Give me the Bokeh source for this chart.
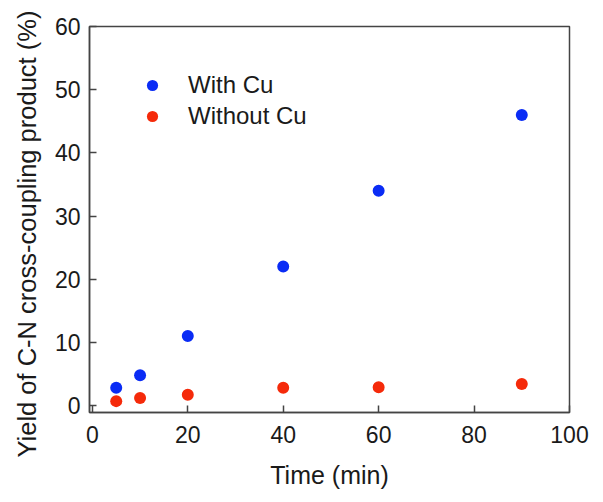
from bokeh.plotting import figure
from bokeh.models import Range1d, FixedTicker, Legend, LegendItem, Title
from bokeh.embed import file_html
from bokeh.resources import INLINE

time_min = [5, 10, 20, 40, 60, 90]
with_cu = [2.8, 4.8, 11.0, 22.0, 34.0, 46.0]
without_cu = [0.7, 1.2, 1.7, 2.8, 2.9, 3.4]
x_ticks = [0, 20, 40, 60, 80, 100]
y_ticks = [0, 10, 20, 30, 40, 50, 60]

FONT = "Liberation Sans"
AX = "#444444"

p = figure(width=603, height=502, output_backend="svg", toolbar_location=None,
           x_range=Range1d(-0.6, 100), y_range=Range1d(-1.1, 60),
           min_border_left=89, min_border_right=34, min_border_top=26, min_border_bottom=90)
p.grid.visible = False
p.background_fill_color = "white"
p.border_fill_color = "white"
p.outline_line_color = AX
p.outline_line_width = 1.5

for ax in (p.xaxis[0], p.yaxis[0]):
    ax.axis_line_color = AX
    ax.axis_line_width = 1.5
    ax.major_tick_in = 7
    ax.major_tick_out = 0
    ax.major_tick_line_color = AX
    ax.major_tick_line_width = 1.5
    ax.minor_tick_line_color = None
    ax.major_label_text_font = FONT
    ax.major_label_text_font_size = "23px"
    ax.major_label_text_color = "#1a1a1a"
    ax.axis_label_text_font = FONT
    ax.axis_label_text_font_size = "25px"
    ax.axis_label_text_font_style = "normal"
    ax.axis_label_text_color = "#1a1a1a"

p.xaxis.ticker = FixedTicker(ticks=x_ticks)
p.yaxis.ticker = FixedTicker(ticks=y_ticks)
p.xaxis.axis_label = "Time (min)"
p.xaxis.major_label_standoff = 13
p.yaxis.major_label_standoff = 9
p.xaxis.axis_label_standoff = 15

ytitle = Title(text="Yield of C-N cross-coupling product (%)", align="left", offset=-45,
               standoff=21, text_font=FONT, text_font_size="25.5px",
               text_font_style="normal", text_color="#1a1a1a")
p.add_layout(ytitle, "left")

r1 = p.scatter(time_min, with_cu, size=12, color="#0a2cf5", line_color=None)
r2 = p.scatter(time_min, without_cu, size=12, color="#f52a0a", line_color=None)

legend = Legend(items=[LegendItem(label="With Cu", renderers=[r1]),
                       LegendItem(label="Without Cu", renderers=[r2])],
                location="top_left", margin=45, padding=0, spacing=3,
                glyph_width=36, glyph_height=28, label_height=28, label_standoff=18,
                border_line_color=None, background_fill_alpha=0,
                label_text_font=FONT, label_text_font_size="24px", label_text_color="#1a1a1a")
p.add_layout(legend)

open("out.html", "w").write(file_html(p, INLINE))
